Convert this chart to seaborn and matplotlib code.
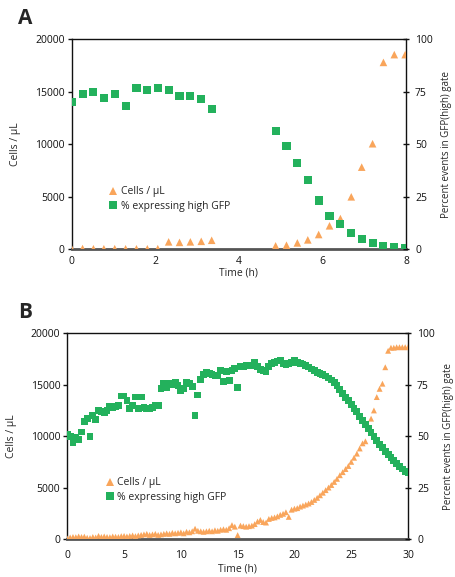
import matplotlib
matplotlib.use("Agg")
import matplotlib.pyplot as plt
from matplotlib.lines import Line2D
import seaborn as sns
import pandas as pd

# ---------------- Panel A data ----------------
a_time = [0.00, 0.26, 0.52, 0.77, 1.03, 1.29, 1.55, 1.81, 2.06, 2.32, 2.58, 2.84, 3.10, 3.35,
          4.88, 5.14, 5.40, 5.65, 5.91, 6.17, 6.43, 6.69, 6.94, 7.20, 7.46, 7.72, 7.98]
a_cells = [50, 60, 40, 40, 50, 40, 40, 40, 50, 700, 650, 700, 750, 850,
           320, 380, 600, 890, 1400, 2230, 2920, 4990, 7820, 10050, 17800, 18540, 18540]
a_gfp = [70.0, 74.1, 74.7, 71.9, 73.9, 68.4, 76.6, 75.8, 76.8, 75.8, 73.1, 73.1, 71.5, 66.8,
         56.3, 49.3, 41.0, 32.8, 23.2, 15.7, 11.8, 7.6, 4.8, 2.9, 1.6, 0.95, 0.5]

# ---------------- Panel B data ----------------
b_time = [0.00, 0.25, 0.50, 0.75, 1.00, 1.25, 1.50, 1.75, 2.00, 2.25, 2.50, 2.75,
          3.00, 3.25, 3.50, 3.75, 4.00, 4.25, 4.50, 4.75, 5.00, 5.25, 5.50, 5.75,
          6.00, 6.25, 6.50, 6.75, 7.00, 7.25, 7.50, 7.75, 8.00, 8.25, 8.50, 8.75,
          9.00, 9.25, 9.50, 9.75, 10.00, 10.25, 10.50, 10.75, 11.00, 11.25, 11.50, 11.75,
          12.00, 12.25, 12.50, 12.75, 13.00, 13.25, 13.50, 13.75, 14.00, 14.25, 14.50, 14.75,
          15.00, 15.25, 15.50, 15.75, 16.00, 16.25, 16.50, 16.75, 17.00, 17.25, 17.50, 17.75,
          18.00, 18.25, 18.50, 18.75, 19.00, 19.25, 19.50, 19.75, 20.00, 20.25, 20.50, 20.75,
          21.00, 21.25, 21.50, 21.75, 22.00, 22.25, 22.50, 22.75, 23.00, 23.25, 23.50, 23.75,
          24.00, 24.25, 24.50, 24.75, 25.00, 25.25, 25.50, 25.75, 26.00, 26.25, 26.50, 26.75,
          27.00, 27.25, 27.50, 27.75, 28.00, 28.25, 28.50, 28.75, 29.00, 29.25, 29.50, 29.75,
          30.00]
b_gfp = [51, 50, 47, 49.5, 48.5, 52, 57, 58.5, 50, 60, 58, 62.5,
         62, 61.5, 62.5, 64.5, 64, 64.5, 65, 69.5, 69.5, 67.5, 63.5, 65,
         69, 63.5, 69, 64, 63.5, 63.5, 64, 65, 64.8, 73, 75.5, 73.5,
         75.5, 75, 76, 74.5, 72, 73, 76, 75.5, 74, 60, 70, 77.5,
         80, 81, 80.5, 80, 79.5, 79.5, 82, 76.5, 81.5, 77, 82, 83,
         73.5, 84, 84, 84.5, 84.5, 84.3, 85.9, 84, 82.5, 82, 81.4, 84,
         85.4, 86, 86.5, 86.7, 85.5, 85, 85.4, 85.8, 86.7, 86, 85.4, 85.1,
         84.5, 83.6, 82.6, 81.8, 81.0, 80.4, 79.8, 79.2, 78.3, 77.3, 76, 74.7,
         72.5, 70.6, 68.8, 67.2, 65.2, 63.5, 61.9, 59.6, 57.6, 55.6, 53.8, 51.8,
         49.8, 47.8, 46.1, 44.5, 42.7, 41, 39.6, 38.2, 36.8, 35.3, 34.0, 33.0,
         32.3]
b_cells = [50, 150, 200, 180, 250, 200, 230, 120, 100, 200, 150, 300,
           200, 250, 200, 180, 250, 220, 200, 280, 300, 250, 300, 350,
           280, 350, 400, 450, 500, 400, 450, 500, 400, 450, 500, 550,
           500, 600, 550, 600, 650, 550, 700, 650, 750, 1000, 800, 750,
           700, 750, 800, 750, 850, 800, 900, 950, 900, 1050, 1350, 1200,
           380, 1300, 1250, 1200, 1250, 1300, 1450, 1700, 1850, 1650, 1600, 1950,
           2050, 2100, 2200, 2350, 2450, 2600, 2150, 2850, 2950, 3000, 3150, 3250,
           3350, 3450, 3600, 3800, 4000, 4250, 4500, 4750, 5000, 5250, 5550, 5850,
           6200, 6500, 6800, 7100, 7500, 7900, 8300, 8800, 9300, 9500, 11000, 11700,
           12500, 13800, 14600, 15100, 16700, 18300, 18600, 18600, 18650, 18650, 18650, 18650,
           18650]

ORANGE = "#F9A55B"
GREEN = "#23B15C"
FONT = ["Open Sans", "DejaVu Sans"]

sns.set_theme(style="white")
plt.rcParams["font.family"] = FONT
plt.rcParams["axes.linewidth"] = 1.0

df_a = pd.DataFrame({"time": a_time, "cells": a_cells, "gfp": a_gfp})
df_b = pd.DataFrame({"time": b_time, "cells": b_cells, "gfp": b_gfp})

W, H = 456, 577
fig = plt.figure(figsize=(W / 100, H / 100), dpi=100)


def frac(l, t, r, b):
    return [l / W, 1 - b / H, (r - l) / W, (b - t) / H]


def panel(rect, df, xmax, xticks, xlabels, msz_sq, msz_tri, legend_xy, xpad, xlabpad):
    ax = fig.add_axes(rect)
    sns.scatterplot(data=df, x="time", y="cells", ax=ax, marker="^", color=ORANGE,
                    s=msz_tri, edgecolor="none", linewidth=0, legend=False, zorder=3)
    ax.set_xlim(0, xmax)
    ax.set_ylim(0, 20000)
    ax.set_yticks([0, 5000, 10000, 15000, 20000])
    ax.set_xticks(xticks)
    ax.set_xticklabels(xlabels)
    ax.set_xlabel("Time (h)", fontsize=7.5, labelpad=xlabpad)
    ax.set_ylabel("Cells / µL", fontsize=7.5, labelpad=10)
    ax.tick_params(axis="both", labelsize=7.5, length=3, width=1, direction="out",
                   colors="#111111", pad=2)
    ax.tick_params(axis="x", length=3, pad=xpad)
    ax.spines["bottom"].set_color("#555555")
    ax.spines["bottom"].set_linewidth(2.0)
    for s in ["left", "top", "right"]:
        ax.spines[s].set_color("#111111")
    ax.grid(False)

    ax2 = ax.twinx()
    sns.scatterplot(data=df, x="time", y="gfp", ax=ax2, marker="s", color=GREEN,
                    s=msz_sq, edgecolor="none", linewidth=0, legend=False, zorder=3)
    ax2.set_ylim(0, 100)
    ax2.set_xlim(0, xmax)
    ax2.set_yticks([0, 25, 50, 75, 100])
    ax2.set_ylabel("Percent events in GFP(high) gate", fontsize=7, labelpad=6)
    ax2.tick_params(axis="y", labelsize=7.5, length=5, width=1, direction="inout",
                    colors="#111111", pad=4)
    ax2.grid(False)
    for s in ax2.spines.values():
        s.set_visible(False)

    handles = [
        Line2D([], [], marker="^", color=ORANGE, linestyle="none", markersize=5.5,
               markeredgewidth=0, label="Cells / µL"),
        Line2D([], [], marker="s", color=GREEN, linestyle="none", markersize=5.5,
               markeredgewidth=0, label="% expressing high GFP"),
    ]
    ax2.legend(handles=handles, loc="upper left", bbox_to_anchor=legend_xy,
               frameon=False, fontsize=7.5, handlelength=0.6, handletextpad=0.4,
               borderaxespad=0, labelspacing=0.35, borderpad=0)
    return ax, ax2


# Panel A
panel(frac(71.7, 39.3, 406, 249.2), df_a, 8, [0, 1, 2, 3, 4, 5, 6, 7, 8],
      ["0", "", "2", "", "4", "", "6", "", "8"], 34, 30, (0.115, 0.30), 2, 0)
# Panel B
panel(frac(67.3, 333.3, 408, 539), df_b, 30, [0, 5, 10, 15, 20, 25, 30],
      ["0", "5", "10", "15", "20", "25", "30"], 24, 18, (0.115, 0.30), 5, 1.5)

fig.text(18 / W, 1 - 19 / H, "A", fontsize=15, fontweight="bold", va="center", ha="left")
fig.text(18 / W, 1 - 312 / H, "B", fontsize=15, fontweight="bold", va="center", ha="left")

fig.savefig("out.png", dpi=100)
